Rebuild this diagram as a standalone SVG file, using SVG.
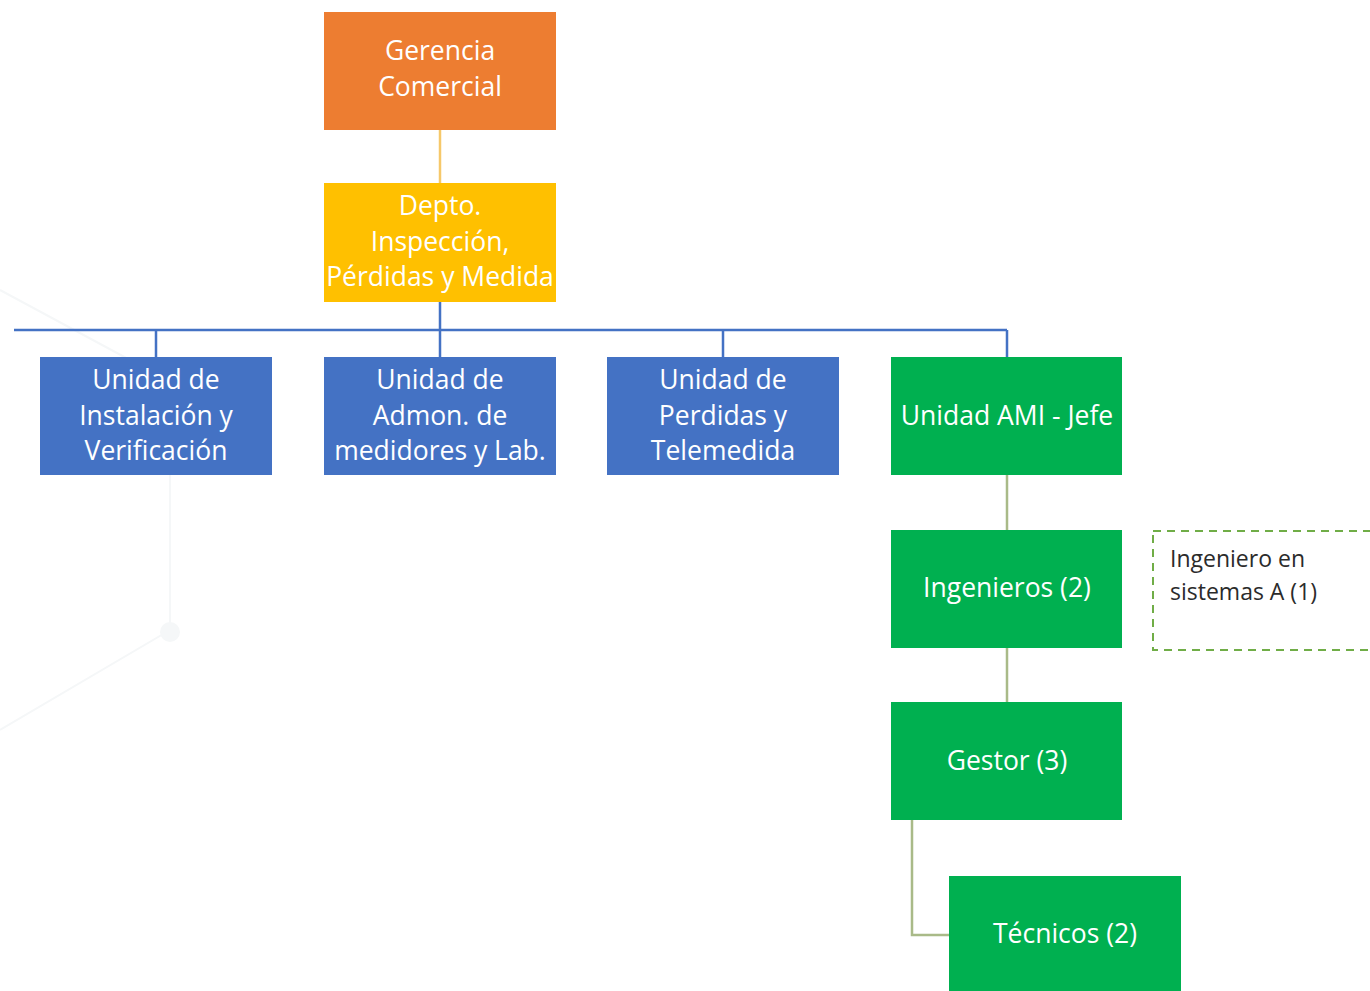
<svg xmlns="http://www.w3.org/2000/svg" width="1370" height="991" viewBox="0 0 1370 991">
  <style>
    .lbl { font-family: "Open Sans", "Noto Sans", "Liberation Sans", sans-serif; font-size: 26.5px; fill: #ffffff; text-anchor: middle; }
    .note { font-family: "Open Sans", "Noto Sans", "Liberation Sans", sans-serif; font-size: 23px; fill: #2b2b2b; }
    .orange { fill: #ED7D31; }
    .yellow { fill: #FFC000; }
    .blue { fill: #4472C4; }
    .green { fill: #00B050; }
    .c-blue { stroke: #4472C4; stroke-width: 2.5; fill: none; }
    .c-yellow { stroke: #F6C86A; stroke-width: 2.5; fill: none; }
    .c-green { stroke: #A9BA88; stroke-width: 2.5; fill: none; }
  </style>
  <rect width="1370" height="991" fill="#ffffff"/>

  <!-- faint background decoration -->
  <g id="background" stroke="#f5f7f8" stroke-width="2" fill="none">
    <path d="M0 290 L130 360 M170 475 L170 630 L0 730"/>
    <circle cx="170" cy="632" r="10" fill="#f5f7f8" stroke="none"/>
  </g>

  <g id="connectors">
    <path class="c-yellow" d="M440 130 V183"/>
    <path class="c-blue" d="M440 302 V330 M14 330 H1007 M156 330 V357 M440 330 V357 M723 330 V357 M1007 330 V357"/>
    <path class="c-green" d="M1007 475 V530 M1007 648 V702 M912 820 V935 H949"/>
  </g>

  <g id="gerencia">
    <rect class="orange" x="324" y="12" width="232" height="118"/>
    <text class="lbl" x="440" y="60">Gerencia</text>
    <text class="lbl" x="440" y="96">Comercial</text>
  </g>

  <g id="depto">
    <rect class="yellow" x="324" y="183" width="232" height="119"/>
    <text class="lbl" x="440" y="215">Depto.</text>
    <text class="lbl" x="440" y="251">Inspección,</text>
    <text class="lbl" x="440" y="286">Pérdidas y Medida</text>
  </g>

  <g id="unidad-instalacion">
    <rect class="blue" x="40" y="357" width="232" height="118"/>
    <text class="lbl" x="156" y="389">Unidad de</text>
    <text class="lbl" x="156" y="425">Instalación y</text>
    <text class="lbl" x="156" y="460">Verificación</text>
  </g>

  <g id="unidad-admon">
    <rect class="blue" x="324" y="357" width="232" height="118"/>
    <text class="lbl" x="440" y="389">Unidad de</text>
    <text class="lbl" x="440" y="425">Admon. de</text>
    <text class="lbl" x="440" y="460">medidores y Lab.</text>
  </g>

  <g id="unidad-perdidas">
    <rect class="blue" x="607" y="357" width="232" height="118"/>
    <text class="lbl" x="723" y="389">Unidad de</text>
    <text class="lbl" x="723" y="425">Perdidas y</text>
    <text class="lbl" x="723" y="460">Telemedida</text>
  </g>

  <g id="unidad-ami">
    <rect class="green" x="891" y="357" width="231" height="118"/>
    <text class="lbl" x="1007" y="425">Unidad AMI - Jefe</text>
  </g>

  <g id="ingenieros">
    <rect class="green" x="891" y="530" width="231" height="118"/>
    <text class="lbl" x="1007" y="597">Ingenieros (2)</text>
  </g>

  <g id="ingeniero-sistemas">
    <rect x="1153" y="531" width="230" height="119" fill="none" stroke="#70AD47" stroke-width="2" stroke-dasharray="8 6"/>
    <text class="note" x="1170" y="567">Ingeniero en</text>
    <text class="note" x="1170" y="600">sistemas A (1)</text>
  </g>

  <g id="gestor">
    <rect class="green" x="891" y="702" width="231" height="118"/>
    <text class="lbl" x="1007" y="770">Gestor (3)</text>
  </g>

  <g id="tecnicos">
    <rect class="green" x="949" y="876" width="232" height="130"/>
    <text class="lbl" x="1065" y="943">Técnicos (2)</text>
  </g>
</svg>
